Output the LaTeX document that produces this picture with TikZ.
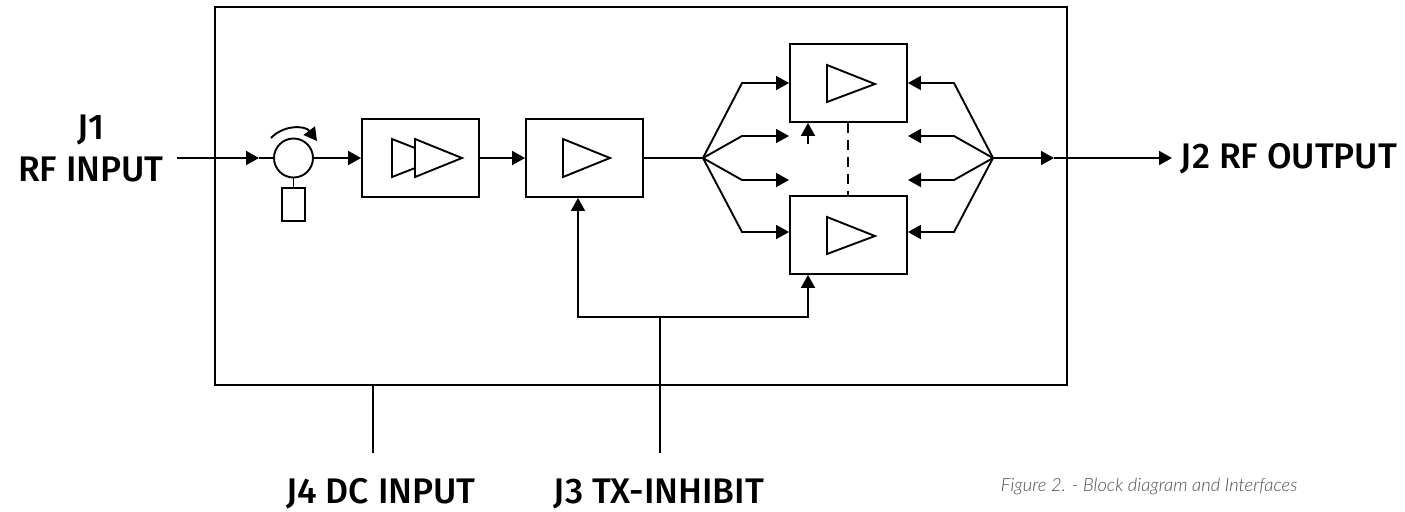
\documentclass[tikz,border=0pt]{standalone}
\usepackage{fontspec}
\setmainfont{Fira Sans}
\newfontfamily\portfont{Fira Sans Medium}
\newfontfamily\capfont{Lato Light}
\usetikzlibrary{arrows.meta}
\tikzset{
	arr/.style={-{Triangle[length=6.5pt,width=7pt]}},
	blockbox/.style={draw,minimum width=58.5pt,minimum height=39pt,inner sep=0pt},
	port/.style={font=\portfont\fontsize{17.8}{20}\selectfont,inner sep=0pt},
}
\begin{document}
\begin{tikzpicture}[x=0.5pt,y=-0.5pt,line width=0.95pt]
	\useasboundingbox (0,0) rectangle (1405,511);
	\node[draw,minimum width=426pt,minimum height=189pt,inner sep=0pt] (chassis) at (641,196) {};

	% input chain
	\coordinate (rfin) at (177,158);
	\node[draw,circle,minimum size=19.5pt,inner sep=0pt] (atten) at (293.5,158) {};
	\node[draw,minimum width=11.5pt,minimum height=16.5pt,inner sep=0pt] (load) at (293.5,204.5) {};
	\node[blockbox] (driverb) at (420.5,158) {};
	\node[blockbox] (preamp) at (584.5,158) {};
	\draw (atten) -- (load);
	\draw[arr] (rfin) -- (259,158);
	\draw (259,158) -- (atten);
	\draw[arr] (atten) -- (driverb);
	\draw[arr] (driverb) -- (preamp);
	\draw[arr] (271,138) .. controls (283,125) and (305,125) .. (317,141);

	% triangles
	\draw (415,148) -- (392,139) -- (392,177) -- (415,168);
	\draw (415,139) -- (462,158) -- (415,177) -- cycle;
	\draw (563,139) -- (610,158) -- (563,177) -- cycle;
	\draw (827,65) -- (875,84) -- (827,102) -- cycle;
	\draw (827,217) -- (875,236) -- (827,254) -- cycle;

	% power amps
	\node[blockbox] (hpa1) at (848.5,83) {};
	\node[blockbox] (hpa2) at (848.5,235) {};
	\draw[dash pattern=on 5pt off 3.5pt] (hpa1.south -| 848,0) -- (hpa2.north -| 848,0);

	\coordinate (split) at (703,158);
	\coordinate (combine) at (993,158);
	\draw (preamp.east |- split) -- (split);

	\draw[arr] (split) -- (742,83) -- (hpa1.west |- 0,83);
	\draw[arr] (split) -- (742,136) -- (789,136);
	\draw[arr] (split) -- (742,180) -- (789,180);
	\draw[arr] (split) -- (742,232) -- (hpa2.west |- 0,232);
	\draw[arr] (combine) -- (954,83) -- (hpa1.east |- 0,83);
	\draw[arr] (combine) -- (954,136) -- (908,136);
	\draw[arr] (combine) -- (954,180) -- (908,180);
	\draw[arr] (combine) -- (954,232) -- (hpa2.east |- 0,232);

	% output
	\node[port,anchor=west] (j2) at (1180,159) {J2 RF OUTPUT};
	\draw[arr] (combine) -- (1054,158);
	\draw[arr] (1054,158) -- (1172,158);

	% inhibit bus
	\coordinate (bus) at (660,317);
	\draw[arr] (bus) -- (578,317) -- (preamp.south -| 578,0);
	\draw[arr] (bus) -- (808,317) -- (hpa2.south -| 808,0);
	\draw[arr] (808,144) -- (hpa1.south -| 808,0);

	% connectors to the outside
	\node[port] (j1) at (91,129.5) {J1};
	\node[port] (rfinlabel) at (91,169) {RF INPUT};
	\node[port] (j4) at (381,493.5) {J4 DC INPUT};
	\node[port] (j3) at (659,493.5) {J3 TX-INHIBIT};
	\draw (bus) -- (660,453);
	\draw (373,385) -- (373,453);

	\node[font=\capfont\fontsize{9.15}{11}\itshape,text=black!70,inner sep=0pt,anchor=west] (caption) at (1000,487) {Figure 2. - Block diagram and Interfaces};
\end{tikzpicture}
\end{document}
